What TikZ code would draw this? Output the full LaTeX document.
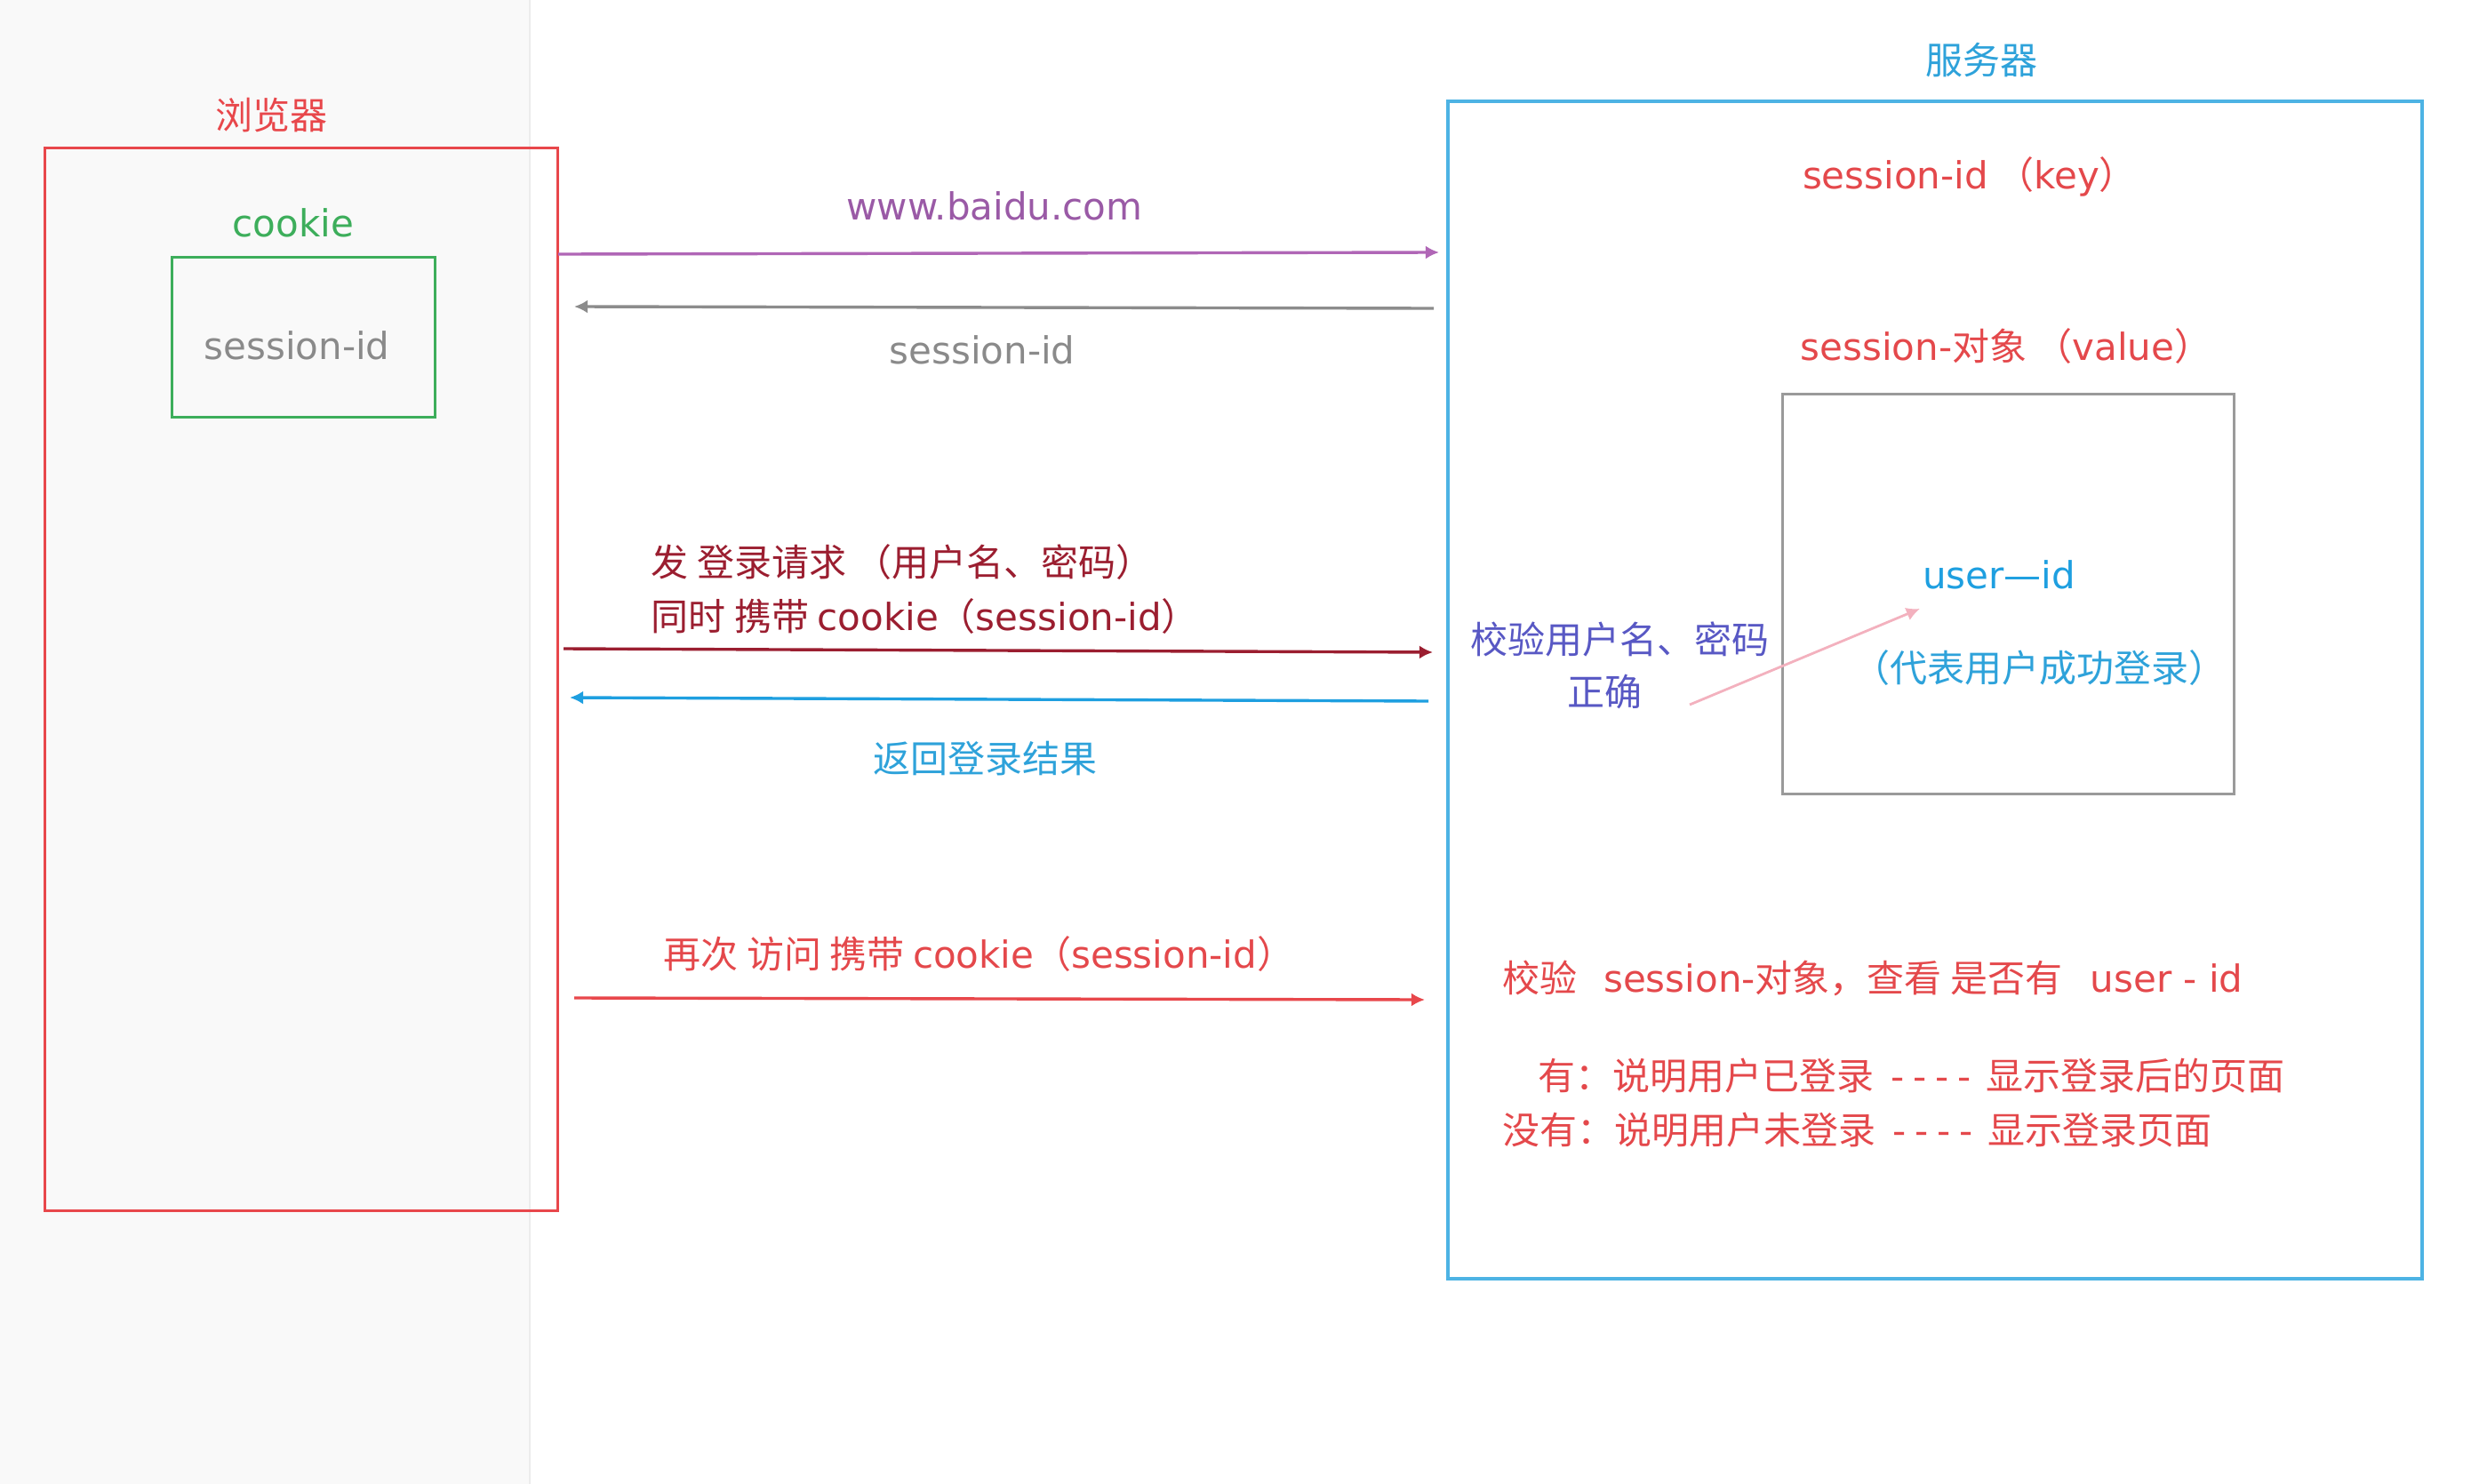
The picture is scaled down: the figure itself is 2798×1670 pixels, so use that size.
\documentclass[tikz,border=0pt]{standalone}
\usepackage{fontspec}
\setmainfont{Noto Sans CJK SC}
\newfontfamily\latfont{DejaVu Sans}
\newcommand\ltn[1]{{\latfont #1}}
\newcommand\dashes{\hspace{0.45em}\ltn{-\kern0.23em-\kern0.23em-\kern0.23em-}\hspace{0.42em}}
\usetikzlibrary{arrows.meta,fit}
\definecolor{bred}{HTML}{E8474B}
\definecolor{cgreen}{HTML}{3DAE5B}
\definecolor{tgray}{HTML}{8A8A8A}
\definecolor{purp}{HTML}{B066B6}
\definecolor{purpt}{HTML}{9A5AA6}
\definecolor{agray}{HTML}{8C8C8C}
\definecolor{dred}{HTML}{9B1E30}
\definecolor{ablue}{HTML}{1E9FE0}
\definecolor{tblue}{HTML}{2EA2DA}
\definecolor{sblue}{HTML}{4DB3E4}
\definecolor{bxgray}{HTML}{9A9A9A}
\definecolor{indig}{HTML}{5858C4}
\definecolor{pinkc}{HTML}{F3B1BE}
\definecolor{txred}{HTML}{E4484B}
\definecolor{panel}{HTML}{F9F9F9}
\definecolor{panelline}{HTML}{ECECEC}
\begin{document}
\begin{tikzpicture}[x=0.25pt,y=-0.25pt,
  lbl/.style={font=\fontsize{10.5}{13}\selectfont, inner sep=0pt, text height=0.8em, text depth=0.2em, yshift=-1pt},
  box/.style={draw, line width=0.75pt, inner sep=0pt},
  arr/.style={line width=0.85pt, -{Latex[length=3.8pt,width=3.8pt]}}]
\useasboundingbox (0,0) rectangle (2798,1670);
\fill[panel] (0,0) rectangle (596,1670);
\draw[panelline, line width=0.3pt] (596,0) -- (596,1670);

% boxes
\node[box, fit={(50,166) (627,1362)}, draw=bred] (browser) {};
\node[box, fit={(193,289) (489,469)}, draw=cgreen] (cookiebox) {};
\node[box, fit={(1629,114) (2725,1439)}, draw=sblue, line width=0.9pt] (server) {};
\node[box, fit={(2005,443) (2513,893)}, draw=bxgray] (sessobj) {};

% browser texts
\node[lbl, text=bred] (ttlb) at (305,129) {浏览器};
\node[lbl, text=cgreen] (ttlc) at (330,250) {\ltn{cookie}};
\node[lbl, text=tgray] (sidc) at (334,388) {\ltn{session-id}};

% arrow labels
\node[lbl, text=purpt] (lbl1) at (1119,231) {\ltn{www.baidu.com}};
\node[lbl, text=tgray] (lbl2) at (1105,393) {\ltn{session-id}};
\node[lbl, text=dred, anchor=west] (req1) at (732,632) {发 登录请求 （用户名、密码）};
\node[lbl, text=dred, anchor=west] (req2) at (732,693) {同时 携带 \ltn{cookie}（\ltn{session-id}）};
\node[lbl, text=tblue] (lbl4) at (1108,853) {返回登录结果};
\node[lbl, text=txred, anchor=west] (lbl5) at (746,1073) {再次 访问 携带 \ltn{cookie}（\ltn{session-id}）};

% server texts
\node[lbl, text=tblue] (ttls) at (2229,67) {服务器};
\node[lbl, text=txred] (key) at (2216,196) {\ltn{session-id} （\ltn{key}）};
\node[lbl, text=txred] (val) at (2257,389) {\ltn{session-}对象 （\ltn{value}）};
\node[lbl, text=ablue] (uid) at (2249,646) {\ltn{user—id}};
\node[lbl, text=tblue] (rep) at (2294,751) {（代表用户成功登录）};
\node[lbl, text=indig] (chk1) at (1822,719) {校验用户名、密码};
\node[lbl, text=indig] (chk2) at (1805,778) {正确};
\node[lbl, text=txred, anchor=west] (chk3) at (1690,1100) {校验\hspace{0.7em}\ltn{session-}对象，查看 是否有\hspace{0.75em}\ltn{user - id}};
\node[lbl, text=txred, anchor=west] (yes) at (1730,1210) {有：说明用户已登录\dashes 显示登录后的页面};
\node[lbl, text=txred, anchor=west] (no) at (1690,1271) {没有：说明用户未登录\dashes 显示登录页面};

% arrows
\coordinate (a1s) at (628,286);  \coordinate (a1e) at (1619,284);
\coordinate (a2s) at (1613,347); \coordinate (a2e) at (646,345);
\coordinate (a3s) at (634,730);  \coordinate (a3e) at (1612,734);
\coordinate (a4s) at (1607,789); \coordinate (a4e) at (641,785);
\coordinate (a5s) at (646,1123); \coordinate (a5e) at (1603,1125);
\coordinate (p1) at (1901,793);  \coordinate (p2) at (2160,685);
\draw[arr, purp] (a1s) -- (a1e);
\draw[arr, agray] (a2s) -- (a2e);
\draw[arr, dred] (a3s) -- (a3e);
\draw[arr, ablue] (a4s) -- (a4e);
\draw[arr, bred] (a5s) -- (a5e);
\draw[arr, pinkc, line width=0.7pt] (p1) -- (p2);
\end{tikzpicture}
\end{document}
